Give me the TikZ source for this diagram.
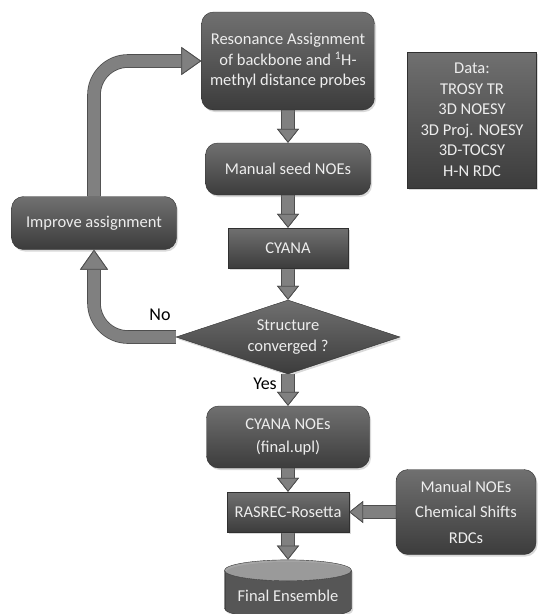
\documentclass[tikz,border=0pt]{standalone}
\usepackage{fontspec}
\setmainfont{Carlito}
\usetikzlibrary{shapes.geometric,arrows.meta,shadows,backgrounds}
\definecolor{boxtop}{HTML}{707070}
\definecolor{boxbot}{HTML}{3C3C3C}
\definecolor{boxtext}{HTML}{EDEDED}
\definecolor{arrowfill}{HTML}{808080}
\definecolor{arrowedge}{HTML}{4E4E4E}
\begin{document}
\begin{tikzpicture}[x=1pt,y=-1pt,
    font=\fontsize{16.5}{20.5}\selectfont,
    box/.style={rounded corners=12pt,top color=boxtop,bottom color=boxbot,
        draw=boxbot!80!black,line width=0.4pt,text=boxtext,align=center,inner sep=2pt,
        drop shadow={shadow xshift=1.5pt,shadow yshift=-2pt,opacity=0.3}},
    sqbox/.style={box,rounded corners=0pt},
    flow/.style={line width=12pt,draw=arrowfill,
        -{Triangle[width=22pt 0 0,length=14pt 0 0,line width=0.8pt 0 0,fill=arrowfill,color=arrowedge]},
        preaction={draw=arrowedge,line width=13.6pt}},
    backflow/.style={flow,rounded corners=34pt,
        -{Triangle[width=28pt 0 0,length=20pt 0 0,line width=0.8pt 0 0,fill=arrowfill,color=arrowedge]}},
    answer/.style={font=\fontsize{18}{22}\selectfont,text=black}]
    \useasboundingbox (0,0) rectangle (539,614);
    \def\mx{288}% main column
    \node[box,minimum width=173,minimum height=98] (res) at (\mx,61)
        {Resonance Assignment\\of backbone and \textsuperscript{1}H-\\methyl distance probes};
    \node[box,minimum width=165,minimum height=52] (seed) at (\mx,169) {Manual seed NOEs};
    \node[sqbox,minimum width=120,minimum height=40] (cyana) at (\mx,248) {CYANA};
    \node[box,diamond,rounded corners=0pt,aspect=3,inner sep=0pt,
        minimum width=224,minimum height=74] (conv) at (\mx,337) {Structure\\converged ?};
    \node[box,minimum width=163,minimum height=62] (noes) at (\mx,437) {CYANA NOEs\\[3pt](final.upl)};
    \node[sqbox,minimum width=122,minimum height=40] (ras) at (\mx,512) {RASREC-Rosetta};
    \node[cylinder,shape border rotate=90,aspect=0.2,draw=boxbot!80!black,text=boxtext,
        cylinder uses custom fill,cylinder body fill=boxbot!85!boxtop,cylinder end fill=black!35,
        minimum width=127,minimum height=59,inner sep=2pt,
        drop shadow={shadow xshift=1.5pt,shadow yshift=-2pt,opacity=0.3}] (ens) at (\mx,596)
        {\raisebox{1pt}{Final Ensemble}};
    % side boxes
    \node[sqbox,minimum width=129,minimum height=136] (data) at (472,120)
        {Data:\\TROSY TR\\3D NOESY\\3D Proj. NOESY\\3D-TOCSY\\H-N RDC};
    \node[box,minimum width=140,minimum height=85] (man) at (466,512)
        {Manual NOEs\\[5pt]Chemical Shifts\\[5pt]RDCs};
    \node[box,minimum width=165,minimum height=53] (imp) at (94,223) {Improve assignment};
    \node[answer] (no) at (160,315) {No};
    \node[answer] (yes) at (265,384) {Yes};
    % arrows
    \begin{scope}[on background layer]
        \foreach \a/\b in {res/seed,seed/cyana,cyana/conv,conv/noes,noes/ras,ras/ens}
            \draw[flow] (\a.south)--(\b.north);
        \draw[flow] (man.west)--(ras.east);
        \draw[backflow] (conv.west) -| (imp.south);
        \draw[backflow] (imp.north) |- (res.west);
    \end{scope}
\end{tikzpicture}
\end{document}
